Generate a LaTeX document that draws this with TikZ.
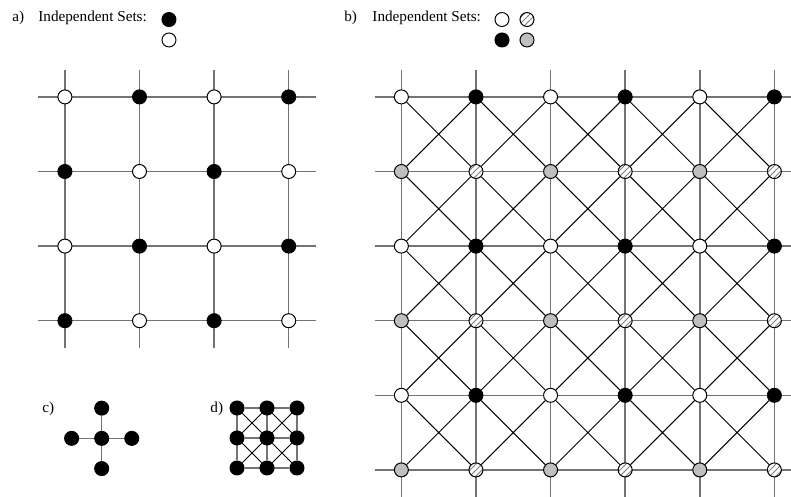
\documentclass[tikz,border=0pt]{standalone}
\usepackage{fontspec}
\setmainfont{Liberation Serif}
\usetikzlibrary{patterns,backgrounds,calc}

\tikzset{
  vtx/.style={circle,draw=black,line width=0.5pt,inner sep=0pt,minimum size=7pt},
  vwhite/.style={vtx,fill=white},
  vblack/.style={vtx,fill=black},
  vgray/.style={vtx,fill=black!25},
  vhatch/.style={vtx,preaction={fill=white},pattern=north east lines,pattern color=black!50},
  gridline/.style={black!55,line width=0.75pt},
  diagline/.style={black,line width=0.5pt},
  lbl/.style={font=\fontsize{7.6}{9}\selectfont,inner sep=0pt,anchor=base west},
}

\begin{document}
\begin{tikzpicture}[x=37.3pt,y=37.3pt]
\useasboundingbox (0,0) rectangle (10.603,6.649);
\def\ext{0.36}

% headings and legends
\node[lbl] (la) at (0.161,6.354) {a)};
\node[lbl] (lat) at (0.509,6.354) {Independent Sets:};
\node[vblack] (la-1) at (2.265,6.387) {};
\node[vwhite] (la-2) at (2.265,6.113) {};
\node[lbl] (lb) at (4.611,6.354) {b)};
\node[lbl] (lbt) at (4.987,6.354) {Independent Sets:};
\node[vwhite] (lb-1) at (6.729,6.387) {};
\node[vhatch] (lb-2) at (7.064,6.387) {};
\node[vblack] (lb-3) at (6.729,6.113) {};
\node[vgray] (lb-4) at (7.064,6.113) {};
\node[lbl] (lc) at (0.563,1.113) {c)};
\node[lbl] (ld) at (2.815,1.113) {d)};

% a) square grid
\foreach \r in {1,...,4}{
  \foreach \c in {1,...,4}{
    \ifodd\numexpr\r+\c\relax \def\sty{vblack}\else\def\sty{vwhite}\fi
    \node[\sty] (a-\r-\c) at (\c-0.13,6.35-\r) {};
  }
}

% b) king grid
\foreach \r in {1,...,6}{
  \foreach \c in {1,...,6}{
    \ifodd\r
      \ifodd\c \def\sty{vwhite}\else\def\sty{vblack}\fi
    \else
      \ifodd\c \def\sty{vgray}\else\def\sty{vhatch}\fi
    \fi
    \node[\sty] (b-\r-\c) at (4.38+\c,6.35-\r) {};
  }
}

% c) cross
\node[vblack] (c-m) at (1.363,0.773) {};
\node[vblack] (c-t) at (1.363,1.178) {};
\node[vblack] (c-b) at (1.363,0.368) {};
\node[vblack] (c-l) at (0.960,0.773) {};
\node[vblack] (c-r) at (1.766,0.773) {};

% d) 3x3 king
\foreach \r in {1,2,3}{
  \foreach \c in {1,2,3}{
    \node[vblack] (d-\r-\c) at (2.775+0.402*\c,1.582-0.402*\r) {};
  }
}

\begin{pgfonlayer}{background}
  \foreach \i in {1,...,4}{
    \draw[gridline] ($(a-\i-1.center)+(-\ext,0)$) -- ($(a-\i-4.center)+(\ext,0)$);
    \draw[gridline] ($(a-1-\i.center)+(0,\ext)$) -- ($(a-4-\i.center)+(0,-\ext)$);
  }
  \foreach \i in {1,...,6}{
    \draw[gridline] ($(b-\i-1.center)+(-\ext,0)$) -- ($(b-\i-6.center)+(\ext,0)$);
    \draw[gridline] ($(b-1-\i.center)+(0,\ext)$) -- ($(b-6-\i.center)+(0,-\ext)$);
  }
  \foreach \r in {1,...,5}{
    \foreach \c in {1,...,5}{
      \pgfmathtruncatemacro\rn{\r+1}
      \pgfmathtruncatemacro\cn{\c+1}
      \draw[diagline] (b-\r-\c) -- (b-\rn-\cn) (b-\r-\cn) -- (b-\rn-\c);
    }
  }
  \draw[gridline] (c-t) -- (c-b) (c-l) -- (c-r);
  \foreach \i in {1,2,3}{
    \draw[gridline] (d-\i-1) -- (d-\i-3);
    \draw[gridline] (d-1-\i) -- (d-3-\i);
  }
  \foreach \r in {1,2}{
    \foreach \c in {1,2}{
      \pgfmathtruncatemacro\rn{\r+1}
      \pgfmathtruncatemacro\cn{\c+1}
      \draw[diagline] (d-\r-\c) -- (d-\rn-\cn) (d-\r-\cn) -- (d-\rn-\c);
    }
  }
\end{pgfonlayer}
\end{tikzpicture}
\end{document}
